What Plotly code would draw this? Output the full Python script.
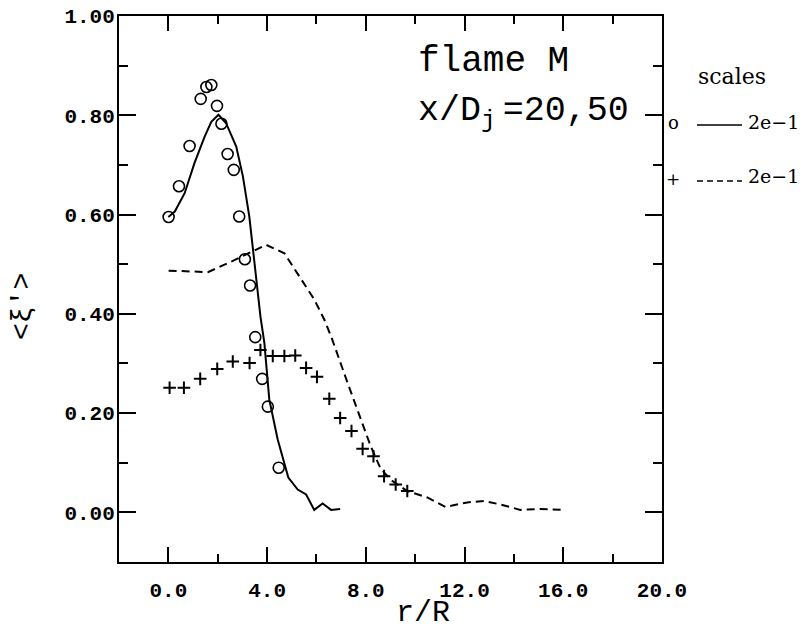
import plotly.graph_objects as go

# measured circles (o)
circ_x = [0.01, 0.43, 0.86, 1.31, 1.54, 1.74, 1.97, 2.15, 2.40, 2.65, 2.87, 3.10, 3.31, 3.52, 3.80, 4.03, 4.47]
circ_y = [0.595, 0.657, 0.738, 0.833, 0.857, 0.861, 0.819, 0.783, 0.722, 0.690, 0.596, 0.510, 0.457, 0.353, 0.269, 0.213, 0.090]

# solid line
sol_x = [0.0, 0.26, 0.66, 1.06, 1.47, 1.74, 2.03, 2.34, 2.75, 3.02, 3.28, 3.49, 3.73, 3.89, 4.09, 4.43, 4.86, 5.24, 5.58, 5.91, 6.25, 6.59, 6.96]
sol_y = [0.595, 0.606, 0.643, 0.704, 0.757, 0.787, 0.801, 0.784, 0.737, 0.677, 0.596, 0.496, 0.395, 0.341, 0.227, 0.147, 0.070, 0.046, 0.036, 0.005, 0.018, 0.005, 0.007]

# measured plus (+)
plus_x = [0.05, 0.63, 1.29, 1.98, 2.61, 3.29, 3.73, 4.23, 4.70, 5.14, 5.58, 6.02, 6.52, 6.96, 7.42, 7.87, 8.31, 8.74, 9.21, 9.68]
plus_y = [0.251, 0.251, 0.269, 0.289, 0.304, 0.301, 0.327, 0.315, 0.315, 0.316, 0.291, 0.273, 0.229, 0.190, 0.164, 0.128, 0.113, 0.073, 0.056, 0.043]

# dashed line
dash_x = [0.01, 1.6, 2.41, 3.22, 3.96, 4.70, 5.37, 5.91, 6.32, 6.59, 7.26, 7.80, 8.2, 8.61, 9.08, 9.68, 10.49, 11.23, 12.11, 12.78, 13.45, 14.26, 15.07, 16.01]
dash_y = [0.487, 0.484, 0.502, 0.522, 0.539, 0.522, 0.469, 0.429, 0.388, 0.355, 0.261, 0.187, 0.133, 0.087, 0.063, 0.043, 0.030, 0.011, 0.020, 0.023, 0.016, 0.005, 0.007, 0.005]

x_ticks = [0, 4, 8, 12, 16, 20]
y_ticks = [0.0, 0.2, 0.4, 0.6, 0.8, 1.0]

MONO = "Liberation Mono"
SERIF = "DejaVu Serif"

fig = go.Figure()
fig.add_trace(go.Scatter(x=sol_x, y=sol_y, mode="lines",
                         line=dict(color="black", width=2), showlegend=False))
fig.add_trace(go.Scatter(x=dash_x, y=dash_y, mode="lines",
                         line=dict(color="black", width=2, dash="8px,5px"), showlegend=False))
fig.add_trace(go.Scatter(x=circ_x, y=circ_y, mode="markers",
                         marker=dict(symbol="circle-open", size=11, color="black",
                                     line=dict(width=1.6, color="black")), showlegend=False))
fig.add_trace(go.Scatter(x=plus_x, y=plus_y, mode="markers",
                         marker=dict(symbol="cross-thin-open", size=9, color="black",
                                     line=dict(width=2, color="black")), showlegend=False))

L, R, T, B = 119, 142, 16, 72
W, H = 804, 634
pw, ph = W - L - R, H - T - B


def px(x):
    return (x - L) / pw


def py(y):
    return (H - B - y) / ph


axis_common = dict(showline=True, linecolor="black", linewidth=2, mirror="ticks",
                   ticks="inside", tickcolor="black", tickwidth=2,
                   showgrid=False, zeroline=False, automargin=False,
                   tickfont=dict(family=MONO, size=21, color="black", weight="bold"))

fig.update_xaxes(range=[-2, 20], tickvals=x_ticks, ticktext=[f"{v:.1f}" for v in x_ticks],
                 ticklen=15, ticklabelstandoff=8,
                 minor=dict(dtick=2, tick0=0, ticklen=8, ticks="inside", tickcolor="black", tickwidth=2),
                 **axis_common)
fig.update_yaxes(range=[-0.1, 1.0], tickvals=y_ticks, ticktext=[f"{v:.2f}" for v in y_ticks],
                 ticklen=17, ticklabelstandoff=-2,
                 minor=dict(dtick=0.1, tick0=0, ticklen=9, ticks="inside", tickcolor="black", tickwidth=2),
                 **axis_common)

ann = [
    dict(x=px(423), y=py(613), text="r/R", xanchor="center", yanchor="middle",
         font=dict(family=MONO, size=30, color="black")),
    dict(x=px(22), y=py(307), text="&lt;ξ'&gt;", xanchor="center", yanchor="middle", textangle=-90,
         font=dict(family=MONO, size=28, color="black")),
    dict(x=px(416), y=py(61), text="flame M", xanchor="left", yanchor="middle",
         font=dict(family=MONO, size=36, color="black")),
    dict(x=px(416), y=py(112), text="x/D<sub>j</sub>\u2009=20,50", xanchor="left", yanchor="middle",
         font=dict(family=MONO, size=35, color="black")),
    dict(x=px(732), y=py(76), text="scales", xanchor="center", yanchor="middle",
         font=dict(family=SERIF, size=22, color="black")),
    dict(x=px(673), y=py(123), text="o", xanchor="center", yanchor="middle",
         font=dict(family=SERIF, size=18, color="black")),
    dict(x=px(746), y=py(122), text="2e−1", xanchor="left", yanchor="middle",
         font=dict(family=SERIF, size=19, color="black")),
    dict(x=px(673), y=py(179), text="+", xanchor="center", yanchor="middle",
         font=dict(family=SERIF, size=17, color="black")),
    dict(x=px(746), y=py(176), text="2e−1", xanchor="left", yanchor="middle",
         font=dict(family=SERIF, size=19, color="black")),
]
for a in ann:
    a.update(xref="paper", yref="paper", showarrow=False)

shapes = [
    dict(type="line", xref="paper", yref="paper", x0=px(697), x1=px(742), y0=py(125), y1=py(125),
         line=dict(color="black", width=1.5)),
    dict(type="line", xref="paper", yref="paper", x0=px(697), x1=px(742), y0=py(181), y1=py(181),
         line=dict(color="black", width=1.5, dash="6px,4px")),
]

fig.update_layout(width=W, height=H, margin=dict(l=L, r=R, t=T, b=B),
                  paper_bgcolor="white", plot_bgcolor="white",
                  annotations=ann, shapes=shapes)

fig.write_html("out.html", config={"displayModeBar": False},
               post_script="document.body.style.margin='0';document.body.style.overflow='hidden';")
